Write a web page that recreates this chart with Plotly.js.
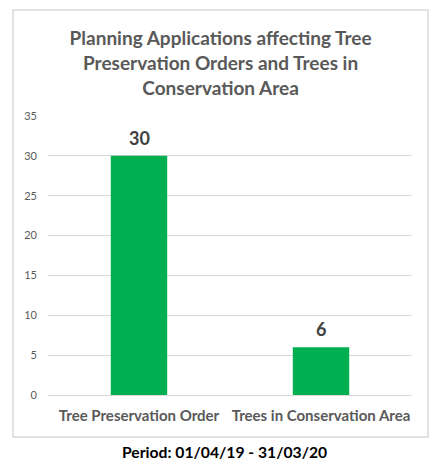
<!DOCTYPE html>
<html><head><meta charset="utf-8">
<script src="https://cdn.plot.ly/plotly-3.0.1.min.js"></script>
<style>html,body{margin:0;padding:0;background:#fff;}#chart{width:430px;height:466px;}</style>
</head><body><div id="chart"></div>
<script>
const categories = ["Tree Preservation Order", "Trees in Conservation Area"];
const values = [30, 6];
const tickValues = [0, 5, 10, 15, 20, 25, 30, 35];
const titleText = "Planning Applications affecting Tree<br>Preservation Orders and Trees in<br>Conservation Area";
const periodText = "Period: 01/04/19 - 31/03/20";

const FONT = "Lato, 'Open Sans', sans-serif";
const data = [{
  type: "bar",
  x: categories,
  y: values,
  marker: {color: "#00b050"},
  hoverinfo: "none"
}];
const valueLabels = categories.map((c, i) => ({
  x: c, y: values[i], xref: "x", yref: "y",
  text: String(values[i]), showarrow: false,
  yanchor: "bottom", xanchor: "center", yshift: 5,
  font: {family: FONT, size: 18, color: "#404040", weight: "bold"}
}));
const layout = {
  width: 430, height: 466,
  margin: {l: 48, r: 18, t: 116, b: 71},
  paper_bgcolor: "#fff", plot_bgcolor: "#fff",
  bargap: 0.69,
  showlegend: false,
  font: {family: FONT, color: "#595959"},
  title: {
    text: titleText,
    font: {family: FONT, size: 19, color: "#595959", weight: "bold"},
    x: 0.513, xanchor: "center", xref: "container",
    y: 0.903, yanchor: "top", yref: "container"
  },
  xaxis: {
    type: "category",
    showgrid: false, showline: true, linecolor: "#d9d9d9", linewidth: 1,
    ticks: "", tickfont: {family: FONT, size: 15, color: "#595959", weight: "bold"},
    ticklabelstandoff: 7,
    fixedrange: true
  },
  yaxis: {
    range: [0, 35], tickvals: tickValues, ticktext: tickValues.map(String),
    showgrid: true, gridcolor: "#d9d9d9", gridwidth: 1,
    zeroline: false, showline: false, ticks: "",
    tickfont: {family: FONT, size: 11, color: "#595959"},
    ticklabelstandoff: 10,
    fixedrange: true
  },
  shapes: [{
    type: "rect", xref: "paper", yref: "paper",
    x0: -0.0962, x1: 1.044, y0: -0.1505, y1: 1.38,
    line: {color: "#d9d9d9", width: 1.5}, fillcolor: "rgba(0,0,0,0)", layer: "below"
  }],
  annotations: valueLabels.concat([{
    text: periodText, showarrow: false,
    xref: "paper", yref: "paper", x: 0.485, y: -0.205, yanchor: "middle", xanchor: "center",
    font: {family: FONT, size: 15.7, color: "#000", weight: "bold"}
  }])
};
Plotly.newPlot("chart", data, layout, {displayModeBar: false, staticPlot: true});
</script></body></html>
